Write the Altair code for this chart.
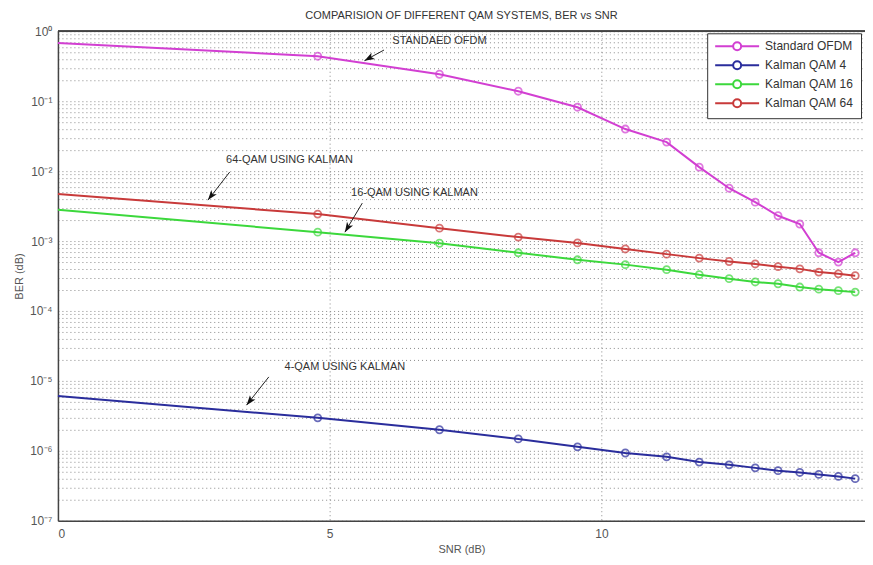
import math
import altair as alt
import pandas as pd

# ---------------- data ----------------
snr = [0.0, 4.78, 7.02, 8.47, 9.56, 10.44, 11.2, 11.8, 12.35, 12.83, 13.25, 13.65, 14.0, 14.36, 14.67]

ber_ofdm = [0.68, 0.44, 0.243, 0.139, 0.082, 0.040, 0.026, 0.0114, 0.0057, 0.0036,
            0.0023, 0.00175, 0.00068, 0.00050, 0.00068]
ber_qam4 = [6.1e-6, 2.96e-6, 2.0e-6, 1.48e-6, 1.14e-6, 0.93e-6, 0.82e-6, 0.69e-6, 0.63e-6,
            0.57e-6, 0.52e-6, 0.49e-6, 0.46e-6, 0.43e-6, 0.40e-6]
ber_qam16 = [0.0028, 0.00134, 0.00093, 0.00068, 0.00054, 0.00046, 0.00039, 0.00033, 0.00029,
             0.00026, 0.000245, 0.00022, 0.000205, 0.000195, 0.000186]
ber_qam64 = [0.0047, 0.00243, 0.00153, 0.00114, 0.00094, 0.00077, 0.00065, 0.00057, 0.00051,
             0.00047, 0.00043, 0.00040, 0.00036, 0.00034, 0.00032]

series_names = ["Standard OFDM", "Kalman QAM 4", "Kalman QAM 16", "Kalman QAM 64"]
series_colors = ["#d23fd2", "#2a2d9c", "#3cd83c", "#c83a3a"]

# annotations: text, text position, arrow start, arrow tip
ann_text = ["STANDAED OFDM", "64-QAM USING KALMAN", "16-QAM USING KALMAN", "4-QAM USING KALMAN"]
ann_x = [7.02, 4.26, 6.56, 5.28]
ann_y = [0.72, 0.01436, 0.00485, 1.585e-5]
arr_x0 = [6.0, 3.16, 5.60, 3.88]
arr_y0 = [0.54, 0.0097, 0.00349, 1.14e-5]
arr_x1 = [5.64, 2.76, 5.28, 3.47]
arr_y1 = [0.38, 0.00385, 0.00134, 4.5e-6]

x_ticks = [0, 5, 10]
y_ticks = [m * 10.0 ** k for k in range(-7, 0) for m in range(1, 10)] + [1.0]

# ---------------- layout ----------------
W, H = 808, 490
X_DOM = [0, 14.85]
Y_DOM = [1e-7, 1]
FONT = "Liberation Sans"

rows = []
for name, vals in zip(series_names, [ber_ofdm, ber_qam4, ber_qam16, ber_qam64]):
    for i, (s, b) in enumerate(zip(snr, vals)):
        rows.append({"snr": s, "ber": b, "series": name, "idx": i})
df = pd.DataFrame(rows)


def px(xv, yv):
    return (xv - X_DOM[0]) / (X_DOM[1] - X_DOM[0]) * W, \
        (math.log10(Y_DOM[1]) - math.log10(yv)) / (math.log10(Y_DOM[1]) - math.log10(Y_DOM[0])) * H


angles = []
for a, b, c, d in zip(arr_x0, arr_y0, arr_x1, arr_y1):
    p0 = px(a, b)
    p1 = px(c, d)
    ang = math.degrees(math.atan2(p1[0] - p0[0], -(p1[1] - p0[1]))) % 360
    angles.append(ang)

ann_df = pd.DataFrame({"text": ann_text, "x": ann_x, "y": ann_y})
arr_df = pd.DataFrame({"x0": arr_x0, "y0": arr_y0, "x1": arr_x1, "y1": arr_y1, "ang": angles})

xscale = alt.Scale(domain=X_DOM, nice=False, zero=False)
yscale = alt.Scale(type="log", domain=Y_DOM, nice=False)

label_expr = ("abs(log(datum.value)/LN10 - round(log(datum.value)/LN10)) < 0.01 ? "
              "'10' + ['\u2070','\u207b\u00b9','\u207b\u00b2','\u207b\u00b3','\u207b\u2074',"
              "'\u207b\u2075','\u207b\u2076','\u207b\u2077'][-round(log(datum.value)/LN10)] : ''")

x_axis = alt.Axis(values=x_ticks, title="SNR (dB)", grid=True, gridDash=[1, 3], gridColor="#8a8a8a",
                  domainColor="#444", domainWidth=1.5, ticks=False, labelPadding=8,
                  labelFont=FONT, labelFontSize=12, labelColor="#555",
                  titleFont=FONT, titleFontSize=11, titleFontWeight="normal", titleColor="#555",
                  titlePadding=4)
y_axis = alt.Axis(values=y_ticks, title="BER (dB)", grid=True, gridDash=[1, 3], gridColor="#8a8a8a",
                  labelExpr=label_expr, domainColor="#444", domainWidth=1.5, ticks=False,
                  labelFont=FONT, labelFontSize=12, labelColor="#555", labelPadding=6,
                  labelOverlap=False,
                  titleFont=FONT, titleFontSize=11, titleFontWeight="normal", titleColor="#555",
                  titlePadding=5)

# line segment with a hollow circle; drawn wider than the nominal symbol box
legend_symbol = ("M-4.4,0H-0.8M0.8,0H4.4M0.8,0A0.8,0.8,0,1,1,-0.8,0A0.8,0.8,0,1,1,0.8,0")

color = alt.Color("series:N",
                  scale=alt.Scale(domain=series_names, range=series_colors),
                  sort=series_names,
                  legend=alt.Legend(title=None, orient="none", legendX=650, legendY=2,
                                    symbolType=legend_symbol, symbolSize=100,
                                    symbolStrokeWidth=2, symbolFillColor="transparent",
                                    symbolOffset=17,
                                    labelFont=FONT, labelFontSize=12, labelColor="#333",
                                    strokeColor="#333", fillColor="white", padding=7,
                                    rowPadding=3, labelOffset=22))

base = alt.Chart(df)
lines = base.mark_line(strokeWidth=2).encode(
    x=alt.X("snr:Q", scale=xscale, axis=x_axis),
    y=alt.Y("ber:Q", scale=yscale, axis=y_axis),
    color=color,
    order="idx:Q",
)
points = base.transform_filter("datum.idx > 0").mark_point(
    shape="circle", size=50, filled=False, strokeWidth=1.8).encode(
    x="snr:Q", y="ber:Q", color=alt.Color("series:N", legend=None,
                                          scale=alt.Scale(domain=series_names, range=series_colors)),
)

texts = alt.Chart(ann_df).mark_text(font=FONT, fontSize=11, color="#333", align="center",
                                    baseline="middle").encode(
    x=alt.X("x:Q", scale=xscale), y=alt.Y("y:Q", scale=yscale), text="text:N")

shafts = alt.Chart(arr_df).mark_rule(color="#222", strokeWidth=1).encode(
    x=alt.X("x0:Q", scale=xscale), y=alt.Y("y0:Q", scale=yscale), x2="x1:Q", y2="y1:Q")

heads = alt.Chart(arr_df).mark_point(shape="M0,0L-0.7,2L0,1.5L0.7,2Z", size=100, filled=True,
                                     color="#111", opacity=1).encode(
    x=alt.X("x1:Q", scale=xscale), y=alt.Y("y1:Q", scale=yscale), angle=alt.Angle("ang:Q", scale=None))

top_line = alt.Chart(ann_df).mark_rule(color="#444", strokeWidth=1.5).encode(
    x=alt.value(0), x2=alt.value(W), y=alt.value(0))

chart = alt.layer(lines, points, shafts, heads, texts, top_line).properties(
    width=W, height=H,
    title=alt.TitleParams("COMPARISION OF DIFFERENT QAM SYSTEMS, BER vs SNR", font=FONT,
                          fontSize=11, fontWeight="normal", color="#333", offset=4, anchor="middle"),
    autosize=alt.AutoSizeParams(type="none"),
    padding={"left": 50, "top": 23, "right": 0, "bottom": 36},
).configure_view(stroke=None).configure(background="white")

chart.save("out.html", embed_options={"renderer": "svg", "actions": False})
